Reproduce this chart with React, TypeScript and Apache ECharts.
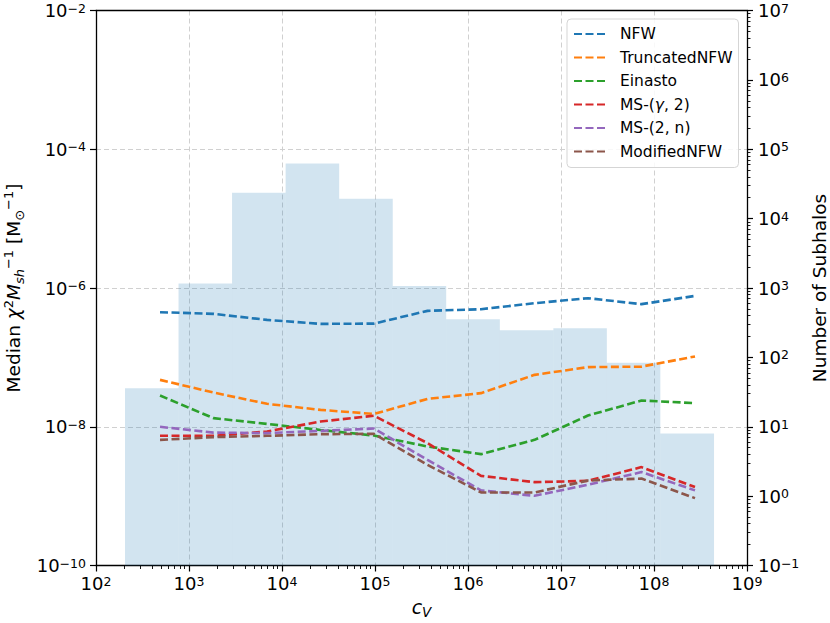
import React, { useEffect, useRef } from "react";
import * as echarts from "echarts";

const FONT = "DejaVu Sans";

// x positions of the median curves (c_V)
const lineX = [488, 1834, 6900, 25950, 97500, 367000, 1.38e6, 5.19e6, 1.95e7, 7.34e7, 2.76e8];

const seriesNames = ["NFW", "TruncatedNFW", "Einasto", "MS-(γ, 2)", "MS-(2, n)", "ModifiedNFW"];
const seriesColors = ["#1f77b4", "#ff7f0e", "#2ca02c", "#d62728", "#9467bd", "#8c564b"];

const nfwVals = [4.48e-7, 4.24e-7, 3.47e-7, 3.04e-7, 3.07e-7, 4.68e-7, 4.95e-7, 6.04e-7, 7.13e-7, 5.85e-7, 7.69e-7];
const truncVals = [4.74e-8, 3.11e-8, 2.14e-8, 1.75e-8, 1.53e-8, 2.52e-8, 3.05e-8, 5.6e-8, 7.23e-8, 7.36e-8, 1.03e-7];
const einastoVals = [2.82e-8, 1.33e-8, 1.1e-8, 9.0e-9, 7.46e-9, 5.19e-9, 4.03e-9, 6.47e-9, 1.45e-8, 2.39e-8, 2.19e-8];
const msGammaVals = [7.4e-9, 7.4e-9, 8.53e-9, 1.19e-8, 1.44e-8, 5.81e-9, 1.96e-9, 1.59e-9, 1.66e-9, 2.62e-9, 1.35e-9];
const msNVals = [9.98e-9, 8.24e-9, 8.09e-9, 8.73e-9, 9.42e-9, 3.33e-9, 1.21e-9, 1.01e-9, 1.46e-9, 2.22e-9, 1.21e-9];
const modNfwVals = [6.47e-9, 7.08e-9, 7.4e-9, 7.82e-9, 7.91e-9, 2.82e-9, 1.13e-9, 1.13e-9, 1.68e-9, 1.79e-9, 9.35e-10];

const allVals = [nfwVals, truncVals, einastoVals, msGammaVals, msNVals, modNfwVals];

// histogram of subhalo counts
const binEdges = [205, 772, 2904, 10940, 41200, 155200, 583000, 2.2e6, 8.28e6, 3.11e7, 1.17e8, 4.42e8];
const binCounts = [36, 1165, 23550, 62400, 19280, 1065, 353, 247, 262, 84, 8];

const supText = (n: number) => (n < 0 ? "\u2212" + Math.abs(n) : String(n));
const logLabel = (v: number) => {
  const e = Math.round(Math.log10(v));
  return `{b|10}{s|${supText(e)}}`;
};

const tickRich = {
  b: { fontFamily: FONT, fontSize: 18, color: "#000", lineHeight: 18, verticalAlign: "bottom" },
  s: { fontFamily: FONT, fontSize: 12.5, color: "#000", lineHeight: 5, verticalAlign: "top" },
};

const axisLineStyle = { color: "#000", width: 1.3 };
const gridLineStyle = { color: "#d0d0d0", width: 1, type: [5, 3] };

export default function App() {
  const ref = useRef<HTMLDivElement>(null);

  useEffect(() => {
    if (!ref.current) return;
    const chart = echarts.init(ref.current, null, { renderer: "svg" });

    const lineSeries = seriesNames.map((name, i) => ({
      name,
      type: "line",
      xAxisIndex: 0,
      yAxisIndex: 0,
      data: lineX.map((x, k) => [x, allVals[i][k]]),
      symbol: "none",
      showSymbol: false,
      lineStyle: { color: seriesColors[i], width: 2.6, type: [8, 3.5] },
      itemStyle: { color: seriesColors[i] },
      z: 5,
      silent: true,
    }));

    const histSeries = {
      name: "hist",
      type: "custom",
      xAxisIndex: 0,
      yAxisIndex: 1,
      silent: true,
      z: 1,
      encode: { x: [0, 1], y: 2 },
      data: binCounts.map((c, i) => [binEdges[i], binEdges[i + 1], c]),
      renderItem: (params: any, api: any) => {
        const x0 = api.value(0);
        const x1 = api.value(1);
        const c = api.value(2);
        const p0 = api.coord([x0, c]);
        const p1 = api.coord([x1, 0.1]);
        return {
          type: "rect",
          shape: { x: p0[0], y: p0[1], width: p1[0] - p0[0], height: p1[1] - p0[1] },
          style: { fill: "rgba(31,119,180,0.2)", stroke: null },
        };
      },
    };

    const option: any = {
      animation: false,
      backgroundColor: "#fff",
      textStyle: { fontFamily: FONT },
      grid: {
        left: 96,
        right: 83,
        top: 10.5,
        bottom: 57.5,
        containLabel: false,
        outerBoundsMode: "none",
        show: false,
      },
      legend: {
        orient: "vertical",
        left: 567,
        top: 19,
        padding: [7, 6, 8, 6],
        itemGap: 7.5,
        itemWidth: 31,
        itemHeight: 14,
        backgroundColor: "rgba(255,255,255,0.85)",
        borderColor: "#d5d5d5",
        borderWidth: 1,
        borderRadius: 4,
        itemStyle: { opacity: 0 },
        data: seriesNames,
        formatter: (name: string) => (name === "MS-(γ, 2)" ? "{t|MS-(}{i|γ}{t|, 2)}" : name),
        textStyle: {
          fontFamily: FONT,
          fontSize: 15.5,
          lineHeight: 16,
          color: "#000",
          padding: [0, 0, 0, 10],
          rich: {
            t: { fontFamily: FONT, fontSize: 15.5, lineHeight: 16, color: "#000" },
            i: { fontFamily: FONT, fontStyle: "italic", fontSize: 15.5, lineHeight: 16, color: "#000" },
          },
        },
      },
      xAxis: [
        {
          type: "log",
          logBase: 10,
          min: 100,
          max: 1e9,
          splitNumber: 7,
          position: "bottom",
          axisLine: { show: true, onZero: false, lineStyle: axisLineStyle },
          axisTick: { show: true, length: 6, lineStyle: { color: "#000", width: 1.2 } },
          minorTick: { show: true, splitNumber: 9, length: 3.5, lineStyle: { color: "#000", width: 0.9 } },
          splitLine: { show: true, showMinLine: false, showMaxLine: false, lineStyle: gridLineStyle },
          axisLabel: { formatter: logLabel, margin: 9, rich: tickRich },
          name: "{i|c}{sub|V}",
          nameLocation: "middle",
          nameGap: 30,
          nameTextStyle: {
            rich: {
              i: { fontFamily: FONT, fontStyle: "italic", fontSize: 19, color: "#000", lineHeight: 22, verticalAlign: "top" },
              sub: { fontFamily: FONT, fontStyle: "italic", fontSize: 13.5, color: "#000", lineHeight: 12, verticalAlign: "bottom" },
            },
          },
        },
        {
          // top spine only
          type: "log",
          logBase: 10,
          min: 100,
          max: 1e9,
          position: "top",
          z: 4,
          axisLine: { show: true, onZero: false, lineStyle: axisLineStyle },
          axisTick: { show: false },
          minorTick: { show: false },
          splitLine: { show: false },
          axisLabel: { show: false },
        },
      ],
      yAxis: [
        {
          type: "log",
          logBase: 100,
          min: 1e-10,
          max: 1e-2,
          splitNumber: 4,
          position: "left",
          axisLine: { show: true, lineStyle: axisLineStyle },
          axisTick: { show: true, length: 6, lineStyle: { color: "#000", width: 1.2 } },
          minorTick: { show: false },
          splitLine: { show: true, showMinLine: false, showMaxLine: false, lineStyle: gridLineStyle },
          axisLabel: { formatter: logLabel, margin: 10, rich: tickRich },
          name:
            "{t|Median }{ti|χ}{sp|2}{ti|M}{sb|sh}{sp|\u22121}{t| [M}{sb|⊙}{sp|\u22121}{t|]}",
          nameLocation: "middle",
          nameRotate: 90,
          nameGap: 60,
          nameTextStyle: {
            rich: {
              t: { fontFamily: FONT, fontSize: 18.5, color: "#000", lineHeight: 24, verticalAlign: "middle" },
              ti: { fontFamily: FONT, fontStyle: "italic", fontSize: 18.5, color: "#000", lineHeight: 24, verticalAlign: "middle" },
              sp: { fontFamily: FONT, fontSize: 13, color: "#000", lineHeight: 12, verticalAlign: "top" },
              sb: { fontFamily: FONT, fontStyle: "italic", fontSize: 13, color: "#000", lineHeight: 12, verticalAlign: "bottom" },
            },
          },
        },
        {
          type: "log",
          logBase: 10,
          min: 0.1,
          max: 1e7,
          splitNumber: 8,
          position: "right",
          z: 4,
          axisLine: { show: true, lineStyle: axisLineStyle },
          axisTick: { show: true, length: 6, lineStyle: { color: "#000", width: 1.2 } },
          minorTick: { show: true, splitNumber: 9, length: 3.5, lineStyle: { color: "#000", width: 0.9 } },
          splitLine: { show: false },
          axisLabel: { formatter: logLabel, margin: 11, rich: tickRich },
          name: "Number of Subhalos",
          nameLocation: "middle",
          nameRotate: 90,
          nameGap: 56,
          nameTextStyle: { fontFamily: FONT, fontSize: 18.5, color: "#000" },
        },
      ],
      series: [histSeries, ...lineSeries],
    };

    chart.setOption(option);
    return () => chart.dispose();
  }, []);

  return (
    <div
      ref={ref}
      style={{ position: "fixed", left: 0, top: 0, width: 830, height: 623, background: "#fff" }}
    />
  );
}
